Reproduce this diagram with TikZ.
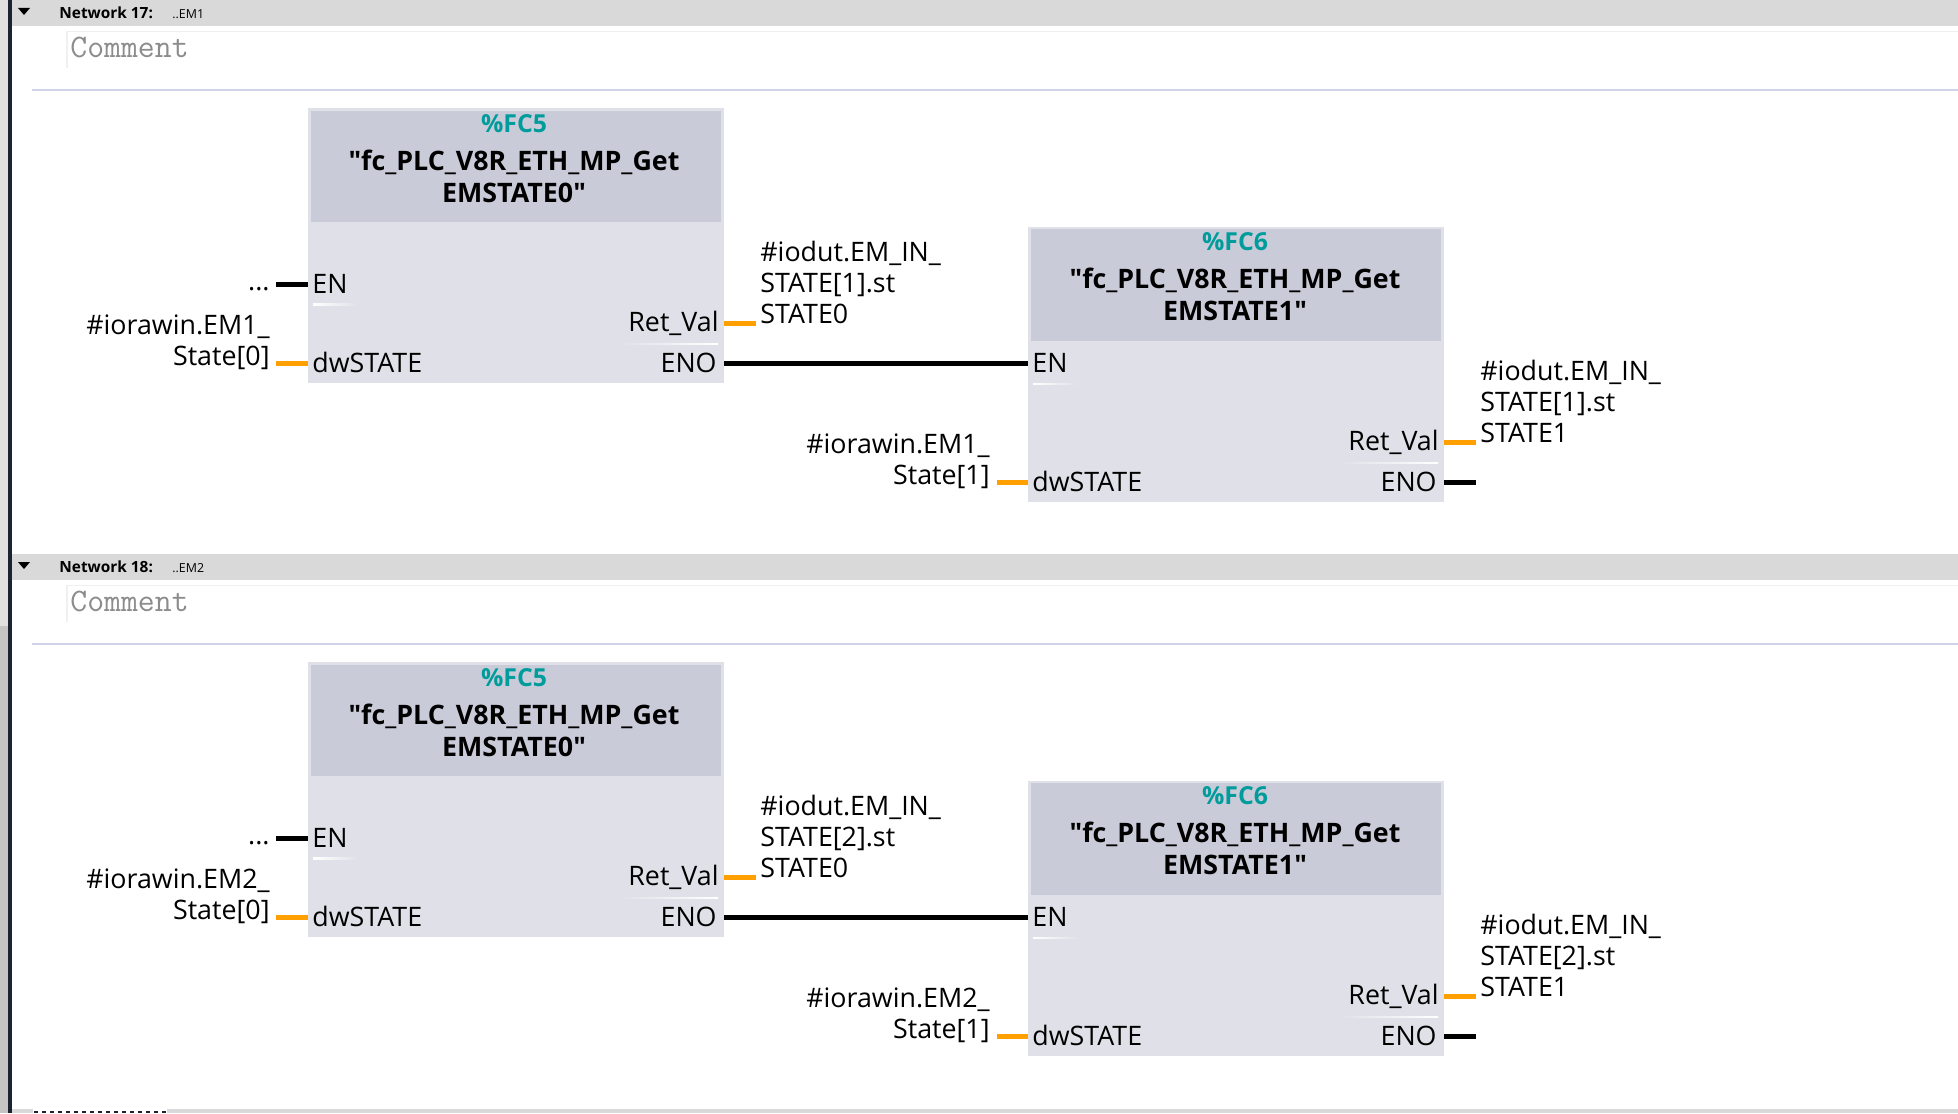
\documentclass[tikz,border=0pt]{standalone}
\usepackage{fontspec}
\setmainfont{Open Sans}
\newfontfamily\titlefam{Open Sans}
\begin{document}
\begin{tikzpicture}[x=0.5pt,y=-0.5pt,
  bar/.style={fill=barcol,draw=none},
  blockbody/.style={fill=bodycol,draw=none},
  blockhead/.style={fill=headcol,draw=none},
  txt/.style={inner sep=0pt,font=\fontsize{13.4}{15.5}\selectfont,text=black},
  lefttxt/.style={txt,anchor=west},
  righttxt/.style={txt,anchor=east},
  lblR/.style={txt,anchor=east,align=right},
  lblL/.style={txt,anchor=west,align=left},
  fcname/.style={inner sep=0pt,font=\fontsize{12.4}{15.6}\selectfont\bfseries,text=teal2},
  title/.style={inner sep=0pt,align=center,font=\fontsize{13.4}{16}\selectfont\titlefam\bfseries,text=black},
  boolwire/.style={line width=2.5pt,draw=black},
  wordwire/.style={line width=2.5pt,draw=wireor},
  nettxt/.style={inner sep=0pt,anchor=west,font=\fontsize{7.7}{9}\selectfont\bfseries},
  smalltxt/.style={inner sep=0pt,anchor=west,font=\fontsize{6.2}{8}\selectfont},
  cmt/.style={inner sep=0pt,anchor=west,text=black!45,font=\fontsize{16.4}{18}\selectfont\ttfamily}
]
\definecolor{barcol}{HTML}{D9D9D9}
\definecolor{bodycol}{HTML}{E0E0E8}
\definecolor{headcol}{HTML}{C9CBD8}
\definecolor{teal2}{HTML}{009C9C}
\definecolor{wireor}{HTML}{FFA000}
\definecolor{linecol}{HTML}{D2D2E8}
\definecolor{navy}{HTML}{1C2233}
\useasboundingbox (0,0) rectangle (1958,1113);
\fill[white] (0,0) rectangle (1958,1113);
% left strip
\fill[black!12] (0,0) rectangle (8,626);
\fill[black!23] (0,626) rectangle (8,1113);
\fill[navy] (7.5,0) rectangle (12,1113);
% bottom strip
\fill[barcol] (12,1109) rectangle (1958,1113);
\fill[white] (33,1109) rectangle (167,1113);
\draw[navy,line width=1pt,dash pattern=on 2pt off 2pt] (34,1111.5) -- (166,1111.5);
\foreach \n/\em/\st/\oy in {17/1/1/0,18/2/2/554}{
\begin{scope}[shift={(0,\oy)}]
  % network header
  \fill[bar] (12,0) rectangle (1958,26);
  \fill[black] (18,8) -- (30,8) -- (24,15) -- cycle;
  \node[nettxt] (net\n) at (59,12.5) {Network \n:};
  \node[smalltxt] (sub\n) at (172,14) {..EM\em};
  \draw[black!6,line width=0.7pt] (1958,31.5) -- (67,31.5) -- (67,68);
  \node[cmt] (cmt\n) at (70,47.5) {Comment};
  \draw[linecol,line width=1pt] (32,90) -- (1958,90);
  % first block
  \fill[blockbody] (308,108) rectangle (724,383);
  \fill[blockhead] (311,111) rectangle (721,222);
  \node[fcname] (fca\n) at (514,123.5) {\%FC5};
  \node[title] (tita\n) at (514,176.5) {"fc\_PLC\_V8R\_ETH\_MP\_Get\\EMSTATE0"};
  \shade[left color=white,right color=bodycol] (313,303.5) rectangle (358,305);
  \shade[left color=bodycol,right color=white] (618,343) rectangle (718,344.5);
  \node[lefttxt] (ena\n) at (312,284) {EN};
  \node[lefttxt] (dwa\n) at (312,362.5) {dwSTATE};
  \node[righttxt] (rva\n) at (719,323.5) {Ret\_Val};
  \node[righttxt] (eoa\n) at (717,363) {ENO};
  \node[righttxt] (dots\n) at (270,289) {...};
  \node[lblR] (ina\n) at (270,342.5) {\#iorawin.EM\em\_\\State[0]};
  \node[lblL] (outa\n) at (760,282.5) {\#iodut.EM\_IN\_\\STATE[\st].st\\STATE0};
  % second block
  \fill[blockbody] (1028,227) rectangle (1444,502);
  \fill[blockhead] (1031,229) rectangle (1441,341);
  \node[fcname] (fcb\n) at (1235,241.5) {\%FC6};
  \node[title] (titb\n) at (1235,294.5) {"fc\_PLC\_V8R\_ETH\_MP\_Get\\EMSTATE1"};
  \shade[left color=white,right color=bodycol] (1033,383) rectangle (1078,384.5);
  \shade[left color=bodycol,right color=white] (1338,462) rectangle (1438,463.5);
  \node[lefttxt] (enb\n) at (1032,363) {EN};
  \node[lefttxt] (dwb\n) at (1032,481.5) {dwSTATE};
  \node[righttxt] (rvb\n) at (1439,442.5) {Ret\_Val};
  \node[righttxt] (eob\n) at (1437,482) {ENO};
  \node[lblR] (inb\n) at (990,461.5) {\#iorawin.EM\em\_\\State[1]};
  \node[lblL] (outb\n) at (1480,401.5) {\#iodut.EM\_IN\_\\STATE[\st].st\\STATE1};
  % wires
  \coordinate (p1\n) at (276,284); \coordinate (p2\n) at (308,284);
  \coordinate (p3\n) at (276,363); \coordinate (p4\n) at (308,363);
  \coordinate (p5\n) at (724,323); \coordinate (p6\n) at (756,323);
  \coordinate (p7\n) at (724,363); \coordinate (p8\n) at (1028,363);
  \coordinate (p9\n) at (997,482); \coordinate (p10\n) at (1028,482);
  \coordinate (p11\n) at (1444,442); \coordinate (p12\n) at (1476,442);
  \coordinate (p13\n) at (1444,482); \coordinate (p14\n) at (1476,482);
  \draw[boolwire] (p1\n) -- (p2\n);
  \draw[wordwire] (p3\n) -- (p4\n);
  \draw[wordwire] (p5\n) -- (p6\n);
  \draw[boolwire] (p7\n) -- (p8\n);
  \draw[wordwire] (p9\n) -- (p10\n);
  \draw[wordwire] (p11\n) -- (p12\n);
  \draw[boolwire] (p13\n) -- (p14\n);
\end{scope}
}
\end{tikzpicture}
\end{document}
